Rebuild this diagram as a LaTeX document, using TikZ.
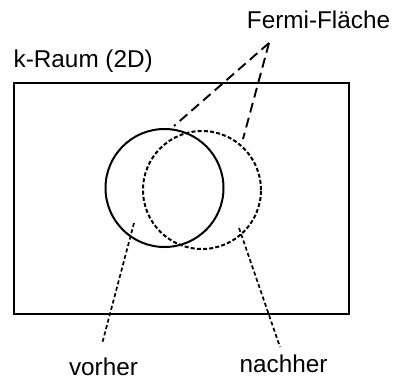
\documentclass[tikz,border=0pt]{standalone}
\usepackage{fontspec}
\setmainfont{Liberation Sans}
\begin{document}
\begin{tikzpicture}[x=1pt,y=-1pt,
  lbl/.style={font=\fontsize{24.3}{28}\selectfont, inner sep=0pt},
  frame/.style={draw, line width=2pt},
  fermi/.style={circle, draw, line width=2pt, minimum size=118pt, inner sep=0pt},
  shifted/.style={dash pattern=on 4pt off 2.2pt},
  longdash/.style={line width=1.9pt, dash pattern=on 10pt off 5.5pt},
  pointer/.style={line width=1.7pt, dash pattern=on 4pt off 2.6pt}]
\useasboundingbox (0,0) rectangle (398,383);
\draw[frame] (14,83) rectangle (349,314);
\node[lbl, anchor=base west] (kraum) at (13.5,67) {k-Raum (2D)};
\node[lbl, anchor=base] (fermitxt) at (318.5,28) {Fermi-Fläche};
\node[lbl, anchor=base] (vorher) at (103.5,375) {vorher};
\node[lbl, anchor=base] (nachher) at (283.5,372) {nachher};
\node[fermi] (before) at (164.5,188) {};
\node[fermi, shifted] (after) at (202,190) {};
\coordinate (apex) at (269,43);
\coordinate (fa) at (174,126);
\coordinate (fb) at (243,139);
\coordinate (va) at (134,223);
\coordinate (vb) at (102,344);
\coordinate (na) at (239,228);
\coordinate (nb) at (280,347);
\draw[longdash] (apex) -- (fa);
\draw[longdash] (apex) -- (fb);
\draw[pointer] (va) -- (vb);
\draw[pointer] (na) -- (nb);
\end{tikzpicture}
\end{document}
